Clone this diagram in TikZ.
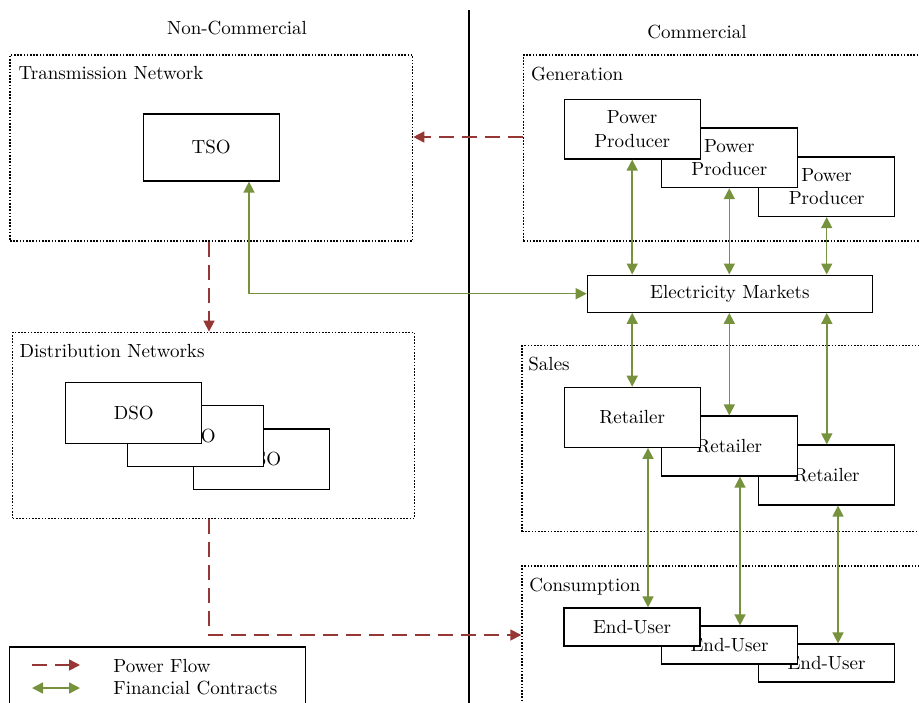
\documentclass[tikz,border=0pt]{standalone}
\usetikzlibrary{arrows.meta}
\definecolor{pfred}{HTML}{953735}
\definecolor{fcgreen}{HTML}{76923C}
\tikzset{
  unitbox/.style={draw, line width=0.6pt, fill=white, inner sep=0pt,
    minimum width=68pt, align=center},
  region/.style={draw, dash pattern=on 0.8pt off 0.8pt, line width=0.7pt, inner sep=0pt},
  legendbox/.style={draw, line width=0.6pt, inner sep=0pt},
  regionlabel/.style={anchor=base west, inner sep=0pt},
  heading/.style={anchor=base, inner sep=0pt},
  powerflow/.style={draw=pfred, line width=0.8pt, dash pattern=on 7.5pt off 4pt,
    -{Triangle[length=5.5pt,width=5.5pt]}},
  contract/.style={draw=fcgreen, line width=0.75pt,
    {Triangle[length=5.5pt,width=5.5pt]}-{Triangle[length=5.5pt,width=5.5pt]}},
}
\begin{document}
\begin{tikzpicture}[x=0.5pt, y=-0.5pt, font=\fontsize{9.5}{11.6}\selectfont]
\useasboundingbox (0,0) rectangle (919,702);
\clip (0,0) rectangle (919,702);

% divider between the two sides
\coordinate (divtop) at (469,10);
\coordinate (divbot) at (469,710);
\draw[line width=1pt] (divtop) -- (divbot);

\node[heading] (hnc) at (237,34) {Non-Commercial};
\node[heading] (hc) at (697,38) {Commercial};

% regions
\node[region, minimum width=201.3pt, minimum height=93pt] (tn) at (211.3,148) {};
\node[region, minimum width=200.8pt, minimum height=93pt] (dn) at (213.5,425.3) {};
\node[region, minimum width=205.8pt, minimum height=93pt] (gen) at (729.2,148) {};
\node[region, minimum width=206.5pt, minimum height=93pt] (sales) at (728.5,438.7) {};
\node[region, minimum width=206.5pt, minimum height=93pt] (cons) at (728.5,659) {};

\node[regionlabel] (tnl) at (18.3,79.3) {Transmission Network};
\node[regionlabel] (dnl) at (19.3,357) {Distribution Networks};
\node[regionlabel] (genl) at (530.7,80) {Generation};
\node[regionlabel] (salesl) at (528,370) {Sales};
\node[regionlabel] (consl) at (529,591) {Consumption};

% non-commercial actors
\node[unitbox, minimum height=33.5pt] (tso) at (211.2,147.5) {TSO};
\node[unitbox, minimum height=30.3pt] (dso3) at (261.3,459.2) {DSO};
\node[unitbox, minimum height=30.3pt] (dso2) at (195.7,436) {DSO};
\node[unitbox, minimum height=30.3pt] (dso1) at (133.7,413) {DSO};

% generation
\node[unitbox, minimum height=29.8pt] (pp3) at (826.7,186.7) {Power\\Producer};
\node[unitbox, minimum height=29.8pt] (pp2) at (729.3,157.8) {Power\\Producer};
\node[unitbox, minimum height=29.8pt] (pp1) at (632.2,129.2) {Power\\Producer};

% markets
\node[unitbox, minimum width=142.5pt, minimum height=18.6pt] (em) at (729.8,293.7) {Electricity Markets};

% sales
\node[unitbox, minimum height=30pt] (r3) at (826.8,475) {Retailer};
\node[unitbox, minimum height=30pt] (r2) at (729.3,446) {Retailer};
\node[unitbox, minimum height=30pt] (r1) at (632.2,417.3) {Retailer};

% consumption
\node[unitbox, minimum height=19pt] (eu3) at (826.5,663) {End-User};
\node[unitbox, minimum height=19pt] (eu2) at (729.5,645) {End-User};
\node[unitbox, minimum height=19pt] (eu1) at (632,627) {End-User};

% power flows
\draw[powerflow] (gen.west |- 0,137) -- (tn.east |- 0,137);
\draw[powerflow] (tn.south -| 209,0) -- (dn.north -| 209,0);
\draw[powerflow] (dn.south -| 209,0) -- (209,635) -- (cons.west |- 0,635);

% financial contracts
\draw[contract] (pp1.south) -- (pp1.south |- em.north);
\draw[contract] (pp2.south) -- (pp2.south |- em.north);
\draw[contract] (pp3.south) -- (pp3.south |- em.north);
\draw[contract] (em.west) -- (249,0 |- em.west) -- (tso.south -| 249,0);
\draw[contract] (r1.north |- em.south) -- (r1.north);
\draw[contract] (r2.north |- em.south) -- (r2.north);
\draw[contract] (r3.north |- em.south) -- (r3.north);
\draw[contract] (r1.south -| 648,0) -- (eu1.north -| 648,0);
\draw[contract] (r2.south -| 740,0) -- (eu2.north -| 740,0);
\draw[contract] (r3.south -| 838,0) -- (eu3.north -| 838,0);

% legend
\node[legendbox, minimum width=148.2pt, minimum height=36.5pt] (legend) at (157.5,683.5) {};
\coordinate (pfa) at (32,665);
\coordinate (pfb) at (80,665);
\coordinate (fca) at (32,688);
\coordinate (fcb) at (80,688);
\draw[powerflow] (pfa) -- (pfb);
\draw[contract] (fca) -- (fcb);
\node[regionlabel] (pfl) at (113,672) {Power Flow};
\node[regionlabel] (fcl) at (113,694) {Financial Contracts};
\end{tikzpicture}
\end{document}
